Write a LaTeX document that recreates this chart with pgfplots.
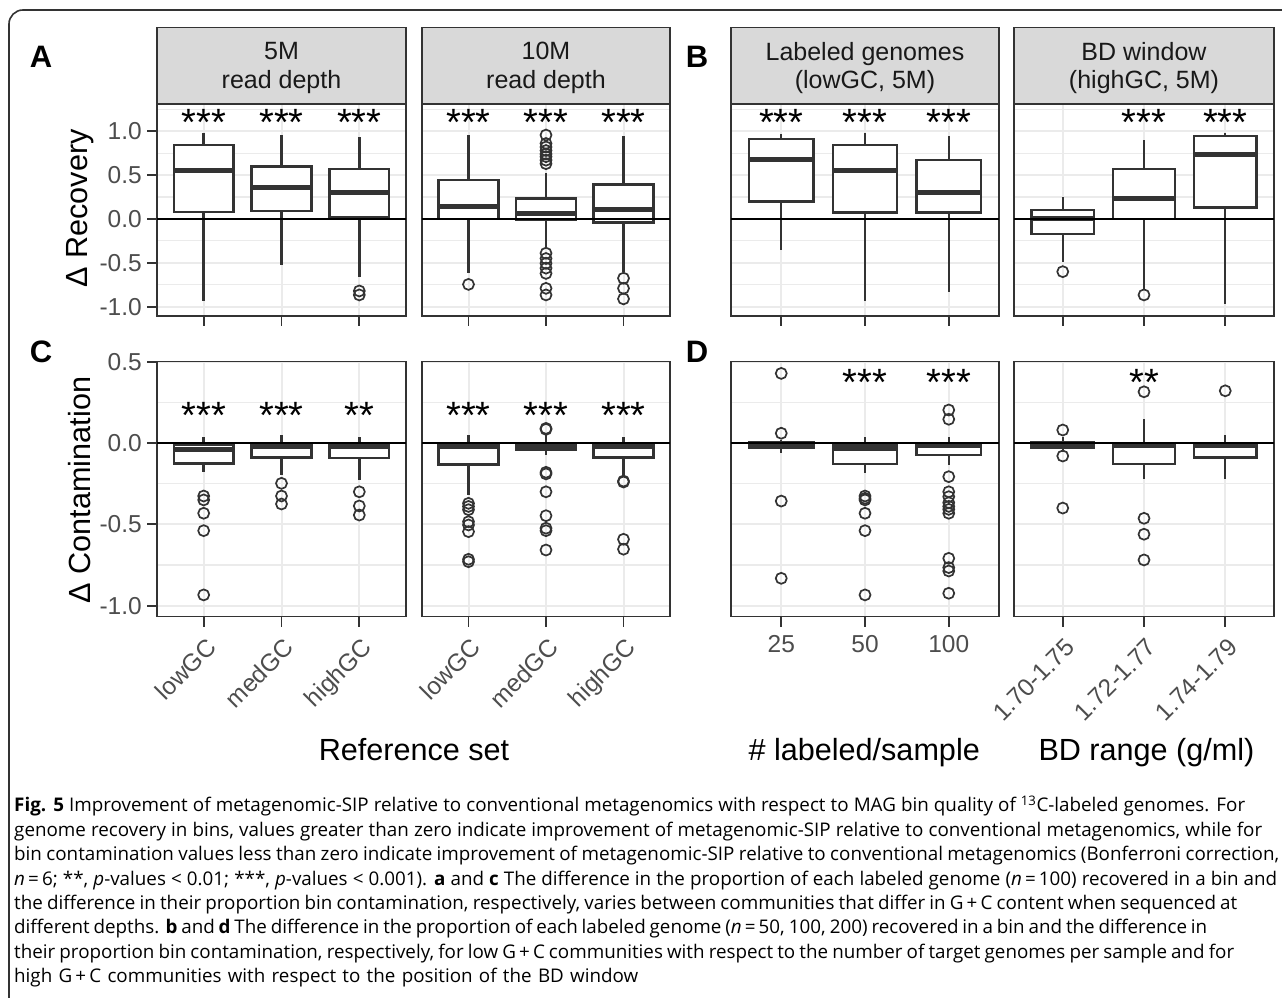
\documentclass[border=0pt]{standalone}
\usepackage{pgfplots}
\pgfplotsset{compat=1.18}
\usepgfplotslibrary{statistics}
\usepackage{fontspec}
\setmainfont{Liberation Sans}
\newfontfamily\capfont{Open Sans}
\definecolor{gray20}{HTML}{333333}
\definecolor{gray30}{HTML}{4D4D4D}
\definecolor{gray85}{HTML}{D9D9D9}
\definecolor{gridcol}{HTML}{EBEBEB}
\newcommand{\fs}[1]{\fontsize{#1}{#1}\selectfont}

\pgfplotsset{
  panel/.style={
    scale only axis, anchor=north west,
    xmin=0.4, xmax=3.6,
    xtick={1,2,3}, xticklabels={},
    tick align=outside, major tick length=10pt, minor tick length=0pt,
    xtick pos=bottom, ytick pos=left,
    tick style={draw=gray20, line width=1.8pt},
    axis line style={draw=gray20, line width=1.6pt},
    grid=both,
    major grid style={draw=gridcol, line width=2pt},
    minor grid style={draw=gridcol, line width=1.1pt},
    tick label style={font=\fs{24.5}, text=gray30},
    yticklabel style={inner sep=0pt, xshift=-5pt},
    xticklabel style={inner sep=0pt},
  },
  row1/.style={panel, height=212pt, ymin=-1.105, ymax=1.31,
    ytick={-1,-0.5,0,0.5,1}, minor ytick={-0.75,-0.25,0.25,0.75,1.25},
    yticklabels={-1.0,-0.5,0.0,0.5,1.0}},
  row2/.style={panel, height=255pt, ymin=-1.068, ymax=0.5,
    ytick={-1,-0.5,0,0.5}, minor ytick={-0.75,-0.25,0.25},
    yticklabels={-1.0,-0.5,0.0,0.5}},
  noy/.style={yticklabels={}, ytick style={draw=none}},
  rotx/.style={xticklabel style={rotate=45, anchor=north east, yshift=-8pt, xshift=-6pt}},
  bxs/.style={gray20, line width=2.4pt, mark=o, mark size=5.5pt,
     mark options={line width=1.7pt, draw=gray20, fill=none},
     boxplot/draw direction=y,
     boxplot/box extend=0.77, boxplot/whisker extend=0,
     boxplot/every box/.style={draw=gray20, fill=white, line width=2.4pt},
     boxplot/every median/.style={draw=gray20, line width=5pt},
     boxplot/every whisker/.style={draw=gray20, line width=2.4pt}},
}
\newcommand{\bx}[6]{\addplot[bxs, boxplot prepared={draw direction=y, draw position=#1, lower whisker=#2, lower quartile=#3, median=#4, upper quartile=#5, upper whisker=#6}] coordinates {};}
\newcommand{\bxo}[7]{\addplot[bxs, boxplot prepared={draw direction=y, draw position=#1, lower whisker=#2, lower quartile=#3, median=#4, upper quartile=#5, upper whisker=#6}] table[row sep=\\,y index=0] {d\\ #7};}
\newcommand{\zl}{\draw[black, line width=1.9pt] (axis cs:0.4,0) -- (axis cs:3.6,0);}
\newcommand{\st}[3]{\node[font=\fs{38}, anchor=base, inner sep=0pt] at (axis cs:#1,#2) {#3};}
\newcommand{\cl}[3]{\node at (14pt,#1pt) {\spaceskip=0.26em plus 0.6em minus 0.14em\makebox[#2pt][s]{#3}};}

\begin{document}
\begin{tikzpicture}
\path[use as bounding box] (0pt,0pt) rectangle (1282pt,998pt);
\begin{scope}
\clip (0pt,0pt) rectangle (1282pt,998pt);
\draw[gray20, line width=1.6pt, rounded corners=14pt] (9pt,988pt) rectangle (1300pt,-20pt);
\end{scope}

% ---------- strips ----------
\foreach \xa/\xb/\t in {157/406/{5M\\read depth}, 422/670/{10M\\read depth}, 731/999/{Labeled genomes\\(lowGC, 5M)}, 1014/1274/{BD window\\(highGC, 5M)}}{
  \draw[fill=gray85, draw=gray20, line width=1.6pt] (\xa pt,894pt) rectangle (\xb pt,970.3pt);
  \node[align=center, font=\fontsize{25}{28.5}\selectfont, text=black!90, inner sep=0pt] at ({(\xa+\xb)/2*1pt},930pt) {\t};
}

% ---------- panel letters & titles ----------
\node[font=\fs{31}\bfseries] at (41pt,941pt) {A};
\node[font=\fs{31}\bfseries] at (697pt,941pt) {B};
\node[font=\fs{31}\bfseries] at (41pt,646pt) {C};
\node[font=\fs{31}\bfseries] at (697pt,646pt) {D};
\node[font=\fs{30.6}, rotate=90] at (80pt,789.5pt) {Δ Recovery};
\node[font=\fs{30.6}, rotate=90] at (80pt,508pt) {Δ Contamination};
\node[font=\fs{30.6}, anchor=base] at (414pt,237pt) {Reference set};
\node[font=\fs{30.6}, anchor=base west] at (745pt,237pt) {\# labeled/sample};
\node[font=\fs{30.6}, anchor=base east] at (1258pt,237pt) {BD range (g/ml)};

% ---------- A1 ----------
\begin{axis}[row1, at={(157pt,894pt)}, width=249pt]
\bx{1}{-0.93}{0.083}{0.547}{0.84}{0.98}
\bx{2}{-0.52}{0.09}{0.356}{0.60}{0.956}
\bxo{3}{-0.66}{0.026}{0.30}{0.57}{0.93}{-0.82\\ -0.865\\}
\zl
\st{1}{0.95}{***}\st{2}{0.95}{***}\st{3}{0.95}{***}
\end{axis}
% ---------- A2 ----------
\begin{axis}[row1, noy, at={(422pt,894pt)}, width=248pt]
\bxo{1}{-0.62}{0.0}{0.14}{0.444}{0.956}{-0.745\\}
\bxo{2}{-0.335}{-0.005}{0.065}{0.235}{0.52}{0.956\\ 0.86\\ 0.82\\ 0.78\\ 0.74\\ 0.71\\ 0.67\\ 0.63\\ -0.39\\ -0.45\\ -0.505\\ -0.56\\ -0.62\\ -0.79\\ -0.865\\}
\bxo{3}{-0.60}{-0.038}{0.11}{0.395}{0.94}{-0.675\\ -0.79\\ -0.91\\}
\zl
\st{1}{0.95}{***}\st{2}{0.95}{***}\st{3}{0.95}{***}
\end{axis}
% ---------- B1 ----------
\begin{axis}[row1, noy, at={(731pt,894pt)}, width=268pt]
\bx{1}{-0.353}{0.197}{0.68}{0.91}{0.965}
\bx{2}{-0.934}{0.076}{0.547}{0.843}{0.976}
\bx{3}{-0.83}{0.072}{0.30}{0.67}{0.945}
\zl
\st{1}{0.95}{***}\st{2}{0.95}{***}\st{3}{0.95}{***}
\end{axis}
% ---------- B2 ----------
\begin{axis}[row1, noy, at={(1014pt,894pt)}, width=260pt]
\bxo{1}{-0.486}{-0.17}{0.008}{0.10}{0.254}{-0.60\\}
\bxo{2}{-0.80}{0.0}{0.235}{0.57}{0.90}{-0.865\\}
\bx{3}{-0.968}{0.13}{0.74}{0.945}{0.976}
\zl
\st{2}{0.95}{***}\st{3}{0.95}{***}
\end{axis}

% ---------- C1 ----------
\begin{axis}[row2, rotx, at={(157pt,636.3pt)}, width=249pt, xticklabels={lowGC,medGC,highGC}]
\bxo{1}{-0.18}{-0.125}{-0.043}{-0.012}{0.039}{-0.326\\ -0.35\\ -0.432\\ -0.539\\ -0.934\\}
\bxo{2}{-0.197}{-0.09}{-0.023}{-0.012}{0.049}{-0.248\\ -0.326\\ -0.375\\}
\bxo{3}{-0.227}{-0.094}{-0.02}{-0.016}{0.039}{-0.30\\ -0.387\\ -0.443\\}
\zl
\st{1}{0.09}{***}\st{2}{0.09}{***}\st{3}{0.09}{**}
\end{axis}
% ---------- C2 ----------
\begin{axis}[row2, noy, rotx, at={(422pt,636.3pt)}, width=248pt, xticklabels={lowGC,medGC,highGC}]
\bxo{1}{-0.32}{-0.131}{-0.02}{-0.012}{0.049}{-0.371\\ -0.39\\ -0.41\\ -0.484\\ -0.504\\ -0.545\\ -0.715\\ -0.73\\}
\bxo{2}{-0.074}{-0.039}{-0.02}{-0.012}{0.05}{0.084\\ 0.09\\ -0.18\\ -0.19\\ -0.30\\ -0.447\\ -0.524\\ -0.539\\ -0.658\\}
\bxo{3}{-0.207}{-0.09}{-0.02}{-0.016}{0.039}{-0.234\\ -0.24\\ -0.592\\ -0.653\\}
\zl
\st{1}{0.09}{***}\st{2}{0.09}{***}\st{3}{0.09}{***}
\end{axis}
% ---------- D1 ----------
\begin{axis}[row2, noy, at={(731pt,636.3pt)}, width=268pt, xticklabels={25,50,100}, xticklabel style={yshift=-8pt}]
\bxo{1}{-0.06}{-0.029}{-0.012}{0.008}{0.02}{0.428\\ 0.06\\ -0.357\\ -0.832\\}
\bxo{2}{-0.186}{-0.129}{-0.033}{-0.012}{0.035}{-0.326\\ -0.34\\ -0.35\\ -0.432\\ -0.539\\ -0.934\\}
\bxo{3}{-0.135}{-0.074}{-0.018}{-0.016}{0.035}{0.203\\ 0.146\\ -0.207\\ -0.30\\ -0.33\\ -0.367\\ -0.39\\ -0.408\\ -0.432\\ -0.709\\ -0.766\\ -0.787\\ -0.924\\}
\zl
\st{2}{0.295}{***}\st{3}{0.295}{***}
\end{axis}
% ---------- D2 ----------
\begin{axis}[row2, noy, rotx, at={(1014pt,636.3pt)}, width=260pt, xticklabels={1.70-1.75,1.72-1.77,1.74-1.79}]
\bxo{1}{-0.053}{-0.027}{-0.012}{0.008}{0.039}{0.08\\ -0.08\\ -0.40\\}
\bxo{2}{-0.221}{-0.129}{-0.015}{-0.012}{0.147}{0.315\\ -0.463\\ -0.561\\ -0.719\\}
\bxo{3}{-0.221}{-0.088}{-0.018}{-0.016}{0.049}{0.321\\}
\zl
\st{2}{0.295}{**}
\end{axis}

% ---------- caption ----------
\begin{scope}[every node/.style={anchor=base west, inner sep=0pt, font=\capfont\fs{18.8}}]
\cl{186}{1231}{\textbf{Fig. 5} Improvement of metagenomic-SIP relative to conventional metagenomics with respect to MAG bin quality of \textsuperscript{13}C-labeled genomes. For}
\cl{161.6}{1248}{genome recovery in bins, values greater than zero indicate improvement of metagenomic-SIP relative to conventional metagenomics, while for}
\cl{137.2}{1265}{bin contamination values less than zero indicate improvement of metagenomic-SIP relative to conventional metagenomics (Bonferroni correction,}
\cl{112.8}{1263}{\textit{n}\,=\,6; **, \textit{p}-values < 0.01; ***, \textit{p}-values < 0.001). \textbf{a} and \textbf{c} The difference in the proportion of each labeled genome (\textit{n}\,=\,100) recovered in a bin and}
\cl{88.4}{1223}{the difference in their proportion bin contamination, respectively, varies between communities that differ in G\,+\,C content when sequenced at}
\cl{64}{1193}{different depths. \textbf{b} and \textbf{d} The difference in the proportion of each labeled genome (\textit{n}\,=\,50, 100, 200) recovered in a bin and the difference in}
\cl{39.6}{1220}{their proportion bin contamination, respectively, for low G\,+\,C communities with respect to the number of target genomes per sample and for}
\cl{15.2}{624}{high G\,+\,C communities with respect to the position of the BD window}
\end{scope}
\end{tikzpicture}
\end{document}
